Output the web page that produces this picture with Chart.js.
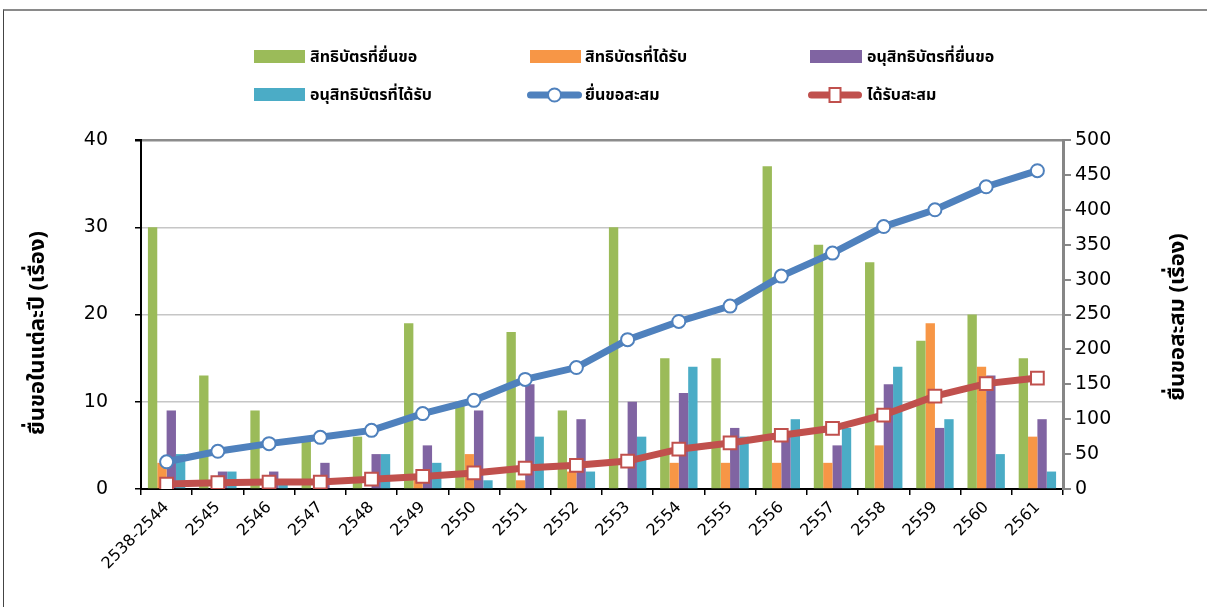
<!DOCTYPE html>
<html>
<head>
<meta charset="utf-8">
<script src="https://cdn.jsdelivr.net/npm/chart.js@4/dist/chart.umd.min.js"></script>
<style>
  html, body { margin: 0; padding: 0; background: #fff; }
  #wrap { position: relative; width: 1207px; height: 607px; overflow: hidden; }
  #frame { position: absolute; left: 3px; top: 9px; right: 0; bottom: 0;
           border-top: 2px solid #8a8a8a; border-left: 1px solid #444; }
  #chart { position: absolute; left: 0; top: 0; }
  .lg { position: absolute; font-family: Tahoma, "Noto Sans Thai", "Noto Sans", sans-serif;
        font-size: 16px; font-weight: bold; color: #000; white-space: nowrap; line-height: 20px; }
  .sw { position: absolute; }
</style>
</head>
<body>
<div id="wrap">
  <div id="frame"></div>
  <canvas id="chart" width="1207" height="607"></canvas>
  <div id="legend"></div>
</div>
<script>
// Years (Buddhist era)
const categories = ['2538-2544','2545','2546','2547','2548','2549','2550','2551','2552',
                    '2553','2554','2555','2556','2557','2558','2559','2560','2561'];

// Yearly counts (left axis)
const patentFiled    = [30,13,9,6,6,19,10,18,9,30,15,15,37,28,26,17,20,15];
const patentGranted  = [3,0,0,0,0,1,4,1,2,0,3,3,3,3,5,19,14,6];
const pettyFiled     = [9,2,2,3,4,5,9,12,8,10,11,7,6,5,12,7,13,8];
const pettyGranted   = [4,2,1,0,4,3,1,6,2,6,14,6,8,7,14,8,4,2];

// Cumulative counts (right axis)
const filedCumulative   = [39,54,65,74,84,108,127,157,174,214,240,262,305,338,376,400,433,456];
const grantedCumulative = [7,9,10,10,14,18,23,30,34,40,57,66,77,87,106,133,151,159];

const leftTicks  = [0,10,20,30,40];
const rightTicks = [0,50,100,150,200,250,300,350,400,450,500];

const seriesNames = ['สิทธิบัตรที่ยื่นขอ','สิทธิบัตรที่ได้รับ','อนุสิทธิบัตรที่ยื่นขอ',
                     'อนุสิทธิบัตรที่ได้รับ','ยื่นขอสะสม','ได้รับสะสม'];
const leftTitle  = 'ยื่นขอในแต่ละปี (เรื่อง)';
const rightTitle = 'ยื่นขอสะสม (เรื่อง)';

const C = { green:'#9BBB59', orange:'#F79646', purple:'#8064A2', cyan:'#4BACC6',
            blue:'#4F81BD', red:'#C0504D' };
const numFont = 'Tahoma, "DejaVu Sans", sans-serif';
const thaiFont = 'Tahoma, "Noto Sans Thai", "Noto Sans", sans-serif';

function bar(label, data, color) {
  return { type:'bar', label, data, backgroundColor: color, borderWidth: 0,
           yAxisID:'y', order: 2, categoryPercentage: 0.73, barPercentage: 1.0 };
}

const axisTitles = {
  id: 'axisTitles',
  afterDraw(chart) {
    const ctx = chart.ctx;
    ctx.save();
    ctx.font = 'bold 22px ' + thaiFont;
    ctx.fillStyle = '#000';
    ctx.textAlign = 'center';
    ctx.textBaseline = 'middle';
    [[40, 333, leftTitle], [1180, 317, rightTitle]].forEach(([x, y, t]) => {
      ctx.save(); ctx.translate(x, y); ctx.rotate(-Math.PI / 2); ctx.fillText(t, 0, 0); ctx.restore();
    });
    ctx.restore();
  }
};

new Chart(document.getElementById('chart'), {
  data: {
    labels: categories,
    datasets: [
      { type:'line', label: seriesNames[5], data: grantedCumulative, yAxisID:'y1', order: 0,
        borderColor: C.red, borderWidth: 7, pointStyle:'rect', pointRadius: 9,
        pointBackgroundColor:'#fff', pointBorderColor: C.red, pointBorderWidth: 2, tension: 0 },
      { type:'line', label: seriesNames[4], data: filedCumulative, yAxisID:'y1', order: 1,
        borderColor: C.blue, borderWidth: 7, pointStyle:'circle', pointRadius: 6.5,
        pointBackgroundColor:'#fff', pointBorderColor: C.blue, pointBorderWidth: 2, tension: 0 },
      bar(seriesNames[0], patentFiled, C.green),
      bar(seriesNames[1], patentGranted, C.orange),
      bar(seriesNames[2], pettyFiled, C.purple),
      bar(seriesNames[3], pettyGranted, C.cyan)
    ]
  },
  options: {
    responsive: false, animation: false, devicePixelRatio: 1,
    layout: { padding: { top: 140, left: 0, right: 0, bottom: 0 } },
    plugins: { legend: { display: false }, tooltip: { enabled: false } },
    scales: {
      x: {
        offset: true,
        grid: { offset: true, drawOnChartArea: false, drawTicks: true, tickLength: 6, color: '#000', lineWidth: 1.5 },
        border: { color: '#000', width: 2 },
        ticks: { autoSkip: false, minRotation: 45, maxRotation: 45, padding: 3, color: '#000',
                 font: { family: numFont, size: 16 } },
        afterFit(s) { s.height = 118; }
      },
      y: {
        position: 'left', min: 0, max: 40,
        afterBuildTicks(s) { s.ticks = leftTicks.map(v => ({ value: v })); },
        grid: { color: (c) => c.tick && c.tick.value === 40 ? '#8c8c8c' : '#c6c6c6',
                lineWidth: (c) => c.tick && c.tick.value === 40 ? 2.5 : 1.5,
                drawTicks: true, tickLength: 6, tickColor: '#000' },
        border: { color: '#000', width: 2 },
        ticks: { padding: 27, color: '#000', font: { family: numFont, size: 19 } },
        afterFit(s) { s.width = 141; }
      },
      y1: {
        position: 'right', min: 0, max: 500,
        afterBuildTicks(s) { s.ticks = rightTicks.map(v => ({ value: v })); },
        grid: { drawOnChartArea: false, drawTicks: true, tickLength: 8, color: '#868686', lineWidth: 2 },
        border: { color: '#868686', width: 3 },
        ticks: { padding: 4, color: '#000', font: { family: numFont, size: 19 } },
        afterFit(s) { s.width = 144; }
      }
    }
  },
  plugins: [axisTitles]
});

// Legend, laid out in two rows of three
const legendItems = [
  { name: seriesNames[0], kind: 'box',    color: C.green,  x: 254, w: 51, tx: 310, y: 57 },
  { name: seriesNames[1], kind: 'box',    color: C.orange, x: 530, w: 51, tx: 585, y: 57 },
  { name: seriesNames[2], kind: 'box',    color: C.purple, x: 810, w: 52, tx: 867, y: 57 },
  { name: seriesNames[3], kind: 'box',    color: C.cyan,   x: 254, w: 51, tx: 310, y: 95 },
  { name: seriesNames[4], kind: 'circle', color: C.blue,   x: 527, w: 55, tx: 585, y: 95 },
  { name: seriesNames[5], kind: 'rect',   color: C.red,    x: 808, w: 54, tx: 867, y: 95 }
];
const lg = document.getElementById('legend');
legendItems.forEach(it => {
  const w = it.w, cx = w / 2;
  let sw;
  if (it.kind === 'box') {
    sw = `<div class="sw" style="left:${it.x}px;top:${it.y - 7}px;width:${w}px;height:13px;background:${it.color}"></div>`;
  } else {
    const mark = it.kind === 'circle'
      ? `<circle cx="${cx}" cy="9" r="6.5" fill="#fff" stroke="${it.color}" stroke-width="2"/>`
      : `<rect x="${cx - 5.5}" y="2" width="11" height="14" fill="#fff" stroke="${it.color}" stroke-width="2"/>`;
    sw = `<svg class="sw" style="left:${it.x}px;top:${it.y - 9}px" width="${w}" height="18">
            <line x1="3.5" y1="9" x2="${w - 3.5}" y2="9" stroke="${it.color}" stroke-width="7" stroke-linecap="round"/>${mark}</svg>`;
  }
  lg.insertAdjacentHTML('beforeend', sw +
    `<div class="lg" style="left:${it.tx}px;top:${it.y - 10}px">${it.name}</div>`);
});
</script>
</body>
</html>
